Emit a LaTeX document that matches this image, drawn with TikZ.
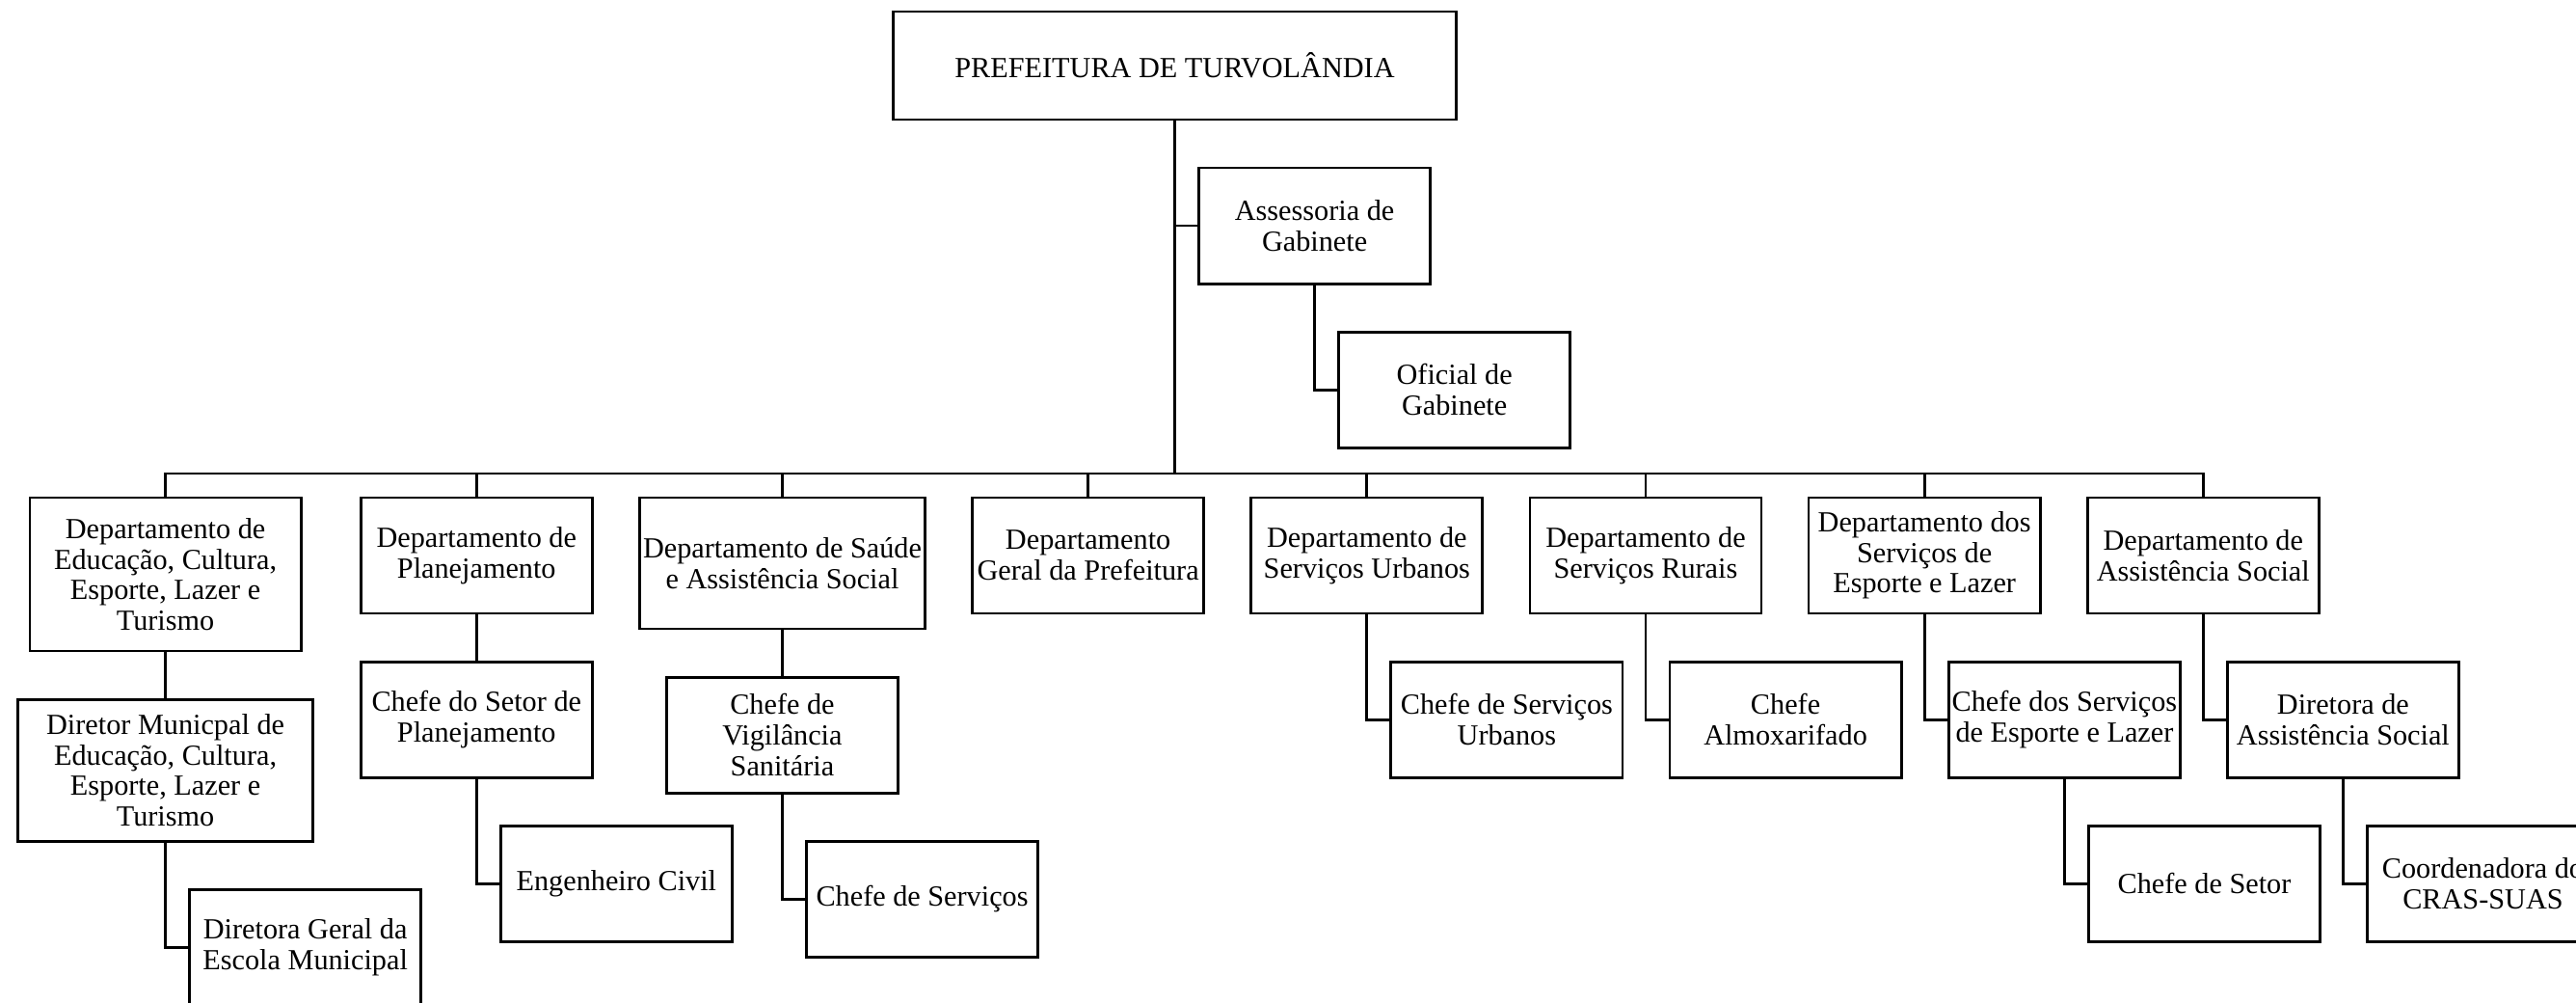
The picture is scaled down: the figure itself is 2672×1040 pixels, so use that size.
\documentclass[tikz,border=0pt]{standalone}
\usepackage{fontspec}
\setmainfont{Liberation Serif}
\usetikzlibrary{positioning}

\begin{document}
\begin{tikzpicture}[
  x=0.01cm, y=-0.01cm,
  node distance=0.5cm and 0.49cm,
  every node/.style={font=\fontsize{8.6}{9}\selectfont},
  unit/.style={rectangle, draw, line width=0.8pt, outer sep=0pt, inner sep=1pt, minimum width=2.4cm, minimum height=1.2cm, align=center},
  head/.style={unit, minimum width=5.83cm, minimum height=1.12cm},
  link/.style={line width=0.8pt}
]
\useasboundingbox (0,0) rectangle (2672,1040);
\clip (0,0) rectangle (2672,1040);

\node[head] (pref) at (1218.5,68) {PREFEITURA DE TURVOLÂNDIA};
\node[unit, below=of pref.south, anchor=north west, xshift=0.25cm] (ass) {Assessoria de\\Gabinete};
\node[unit, below=of ass.south, anchor=north west, xshift=0.25cm] (ofi) {Oficial de\\Gabinete};
\coordinate (bus) at (1218.5,491);

% departamentos
\node[unit, minimum width=2.81cm, minimum height=1.59cm, anchor=north west] (dEdu) at (31,516) {Departamento de\\Educação, Cultura,\\Esporte, Lazer e\\Turismo};
\node[unit, right=0.62cm of dEdu.north east, anchor=north west] (dPla) {Departamento de\\Planejamento};
\node[unit, minimum width=2.96cm, minimum height=1.36cm, right=of dPla.north east, anchor=north west] (dSau) {Departamento de Saúde\\e Assistência Social};
\node[unit, right=of dSau.north east, anchor=north west] (dGer) {Departamento\\Geral da Prefeitura};
\node[unit, right=of dGer.north east, anchor=north west] (dUrb) {Departamento de\\Serviços Urbanos};
\node[unit, right=of dUrb.north east, anchor=north west] (dRur) {Departamento de\\Serviços Rurais};
\node[unit, right=of dRur.north east, anchor=north west] (dEsp) {Departamento dos\\Serviços de\\Esporte e Lazer};
\node[unit, right=of dEsp.north east, anchor=north west] (dAss) {Departamento de\\Assistência Social};

% chefias
\node[unit, minimum width=3.06cm, minimum height=1.47cm, below=of dEdu] (cEdu) {Diretor Municpal de\\Educação, Cultura,\\Esporte, Lazer e\\Turismo};
\node[unit, below=of dPla] (cPla) {Chefe do Setor de\\Planejamento};
\node[unit, below=of dSau] (cSau) {Chefe de\\Vigilância\\Sanitária};
\node[unit, below=of dUrb.south, anchor=north west, xshift=0.25cm] (cUrb) {Chefe de Serviços\\Urbanos};
\node[unit, below=of dRur.south, anchor=north west, xshift=0.25cm] (cRur) {Chefe\\Almoxarifado};
\node[unit, below=of dEsp.south, anchor=north west, xshift=0.25cm] (cEsp) {Chefe dos Serviços\\de Esporte e Lazer};
\node[unit, below=of dAss.south, anchor=north west, xshift=0.25cm] (cAss) {Diretora de\\Assistência Social};

\node[unit, below=of cEdu.south, anchor=north west, xshift=0.25cm] (eEdu) {Diretora Geral da\\Escola Municipal};
\node[unit, below=of cPla.south, anchor=north west, xshift=0.25cm] (ePla) {Engenheiro Civil};
\node[unit, below=of cSau.south, anchor=north west, xshift=0.25cm] (eSau) {Chefe de Serviços};
\node[unit, below=of cEsp.south, anchor=north west, xshift=0.25cm] (eEsp) {Chefe de Setor};
\node[unit, below=of cAss.south, anchor=north west, xshift=0.25cm] (eAss) {Coordenadora do\\CRAS-SUAS};

% ligacoes
\draw[link] (pref.south) -- (bus);
\draw[link] (ass.west) -- (ass.west -| pref.south);
\draw[link] (ass.south) |- (ofi.west);
\draw[link] (dEdu.north) |- (bus) -| (dAss.north);
\draw[link] (dPla.north) -- (dPla.north |- bus);
\draw[link] (dSau.north) -- (dSau.north |- bus);
\draw[link] (dGer.north) -- (dGer.north |- bus);
\draw[link] (dUrb.north) -- (dUrb.north |- bus);
\draw[link] (dRur.north) -- (dRur.north |- bus);
\draw[link] (dEsp.north) -- (dEsp.north |- bus);

\draw[link] (dEdu) -- (cEdu);
\draw[link] (cEdu.south) |- (eEdu.west);
\draw[link] (dPla) -- (cPla);
\draw[link] (cPla.south) |- (ePla.west);
\draw[link] (dSau) -- (cSau);
\draw[link] (cSau.south) |- (eSau.west);
\draw[link] (dUrb.south) |- (cUrb.west);
\draw[link] (dRur.south) |- (cRur.west);
\draw[link] (dEsp.south) |- (cEsp.west);
\draw[link] (cEsp.south) |- (eEsp.west);
\draw[link] (dAss.south) |- (cAss.west);
\draw[link] (cAss.south) |- (eAss.west);

\end{tikzpicture}
\end{document}
